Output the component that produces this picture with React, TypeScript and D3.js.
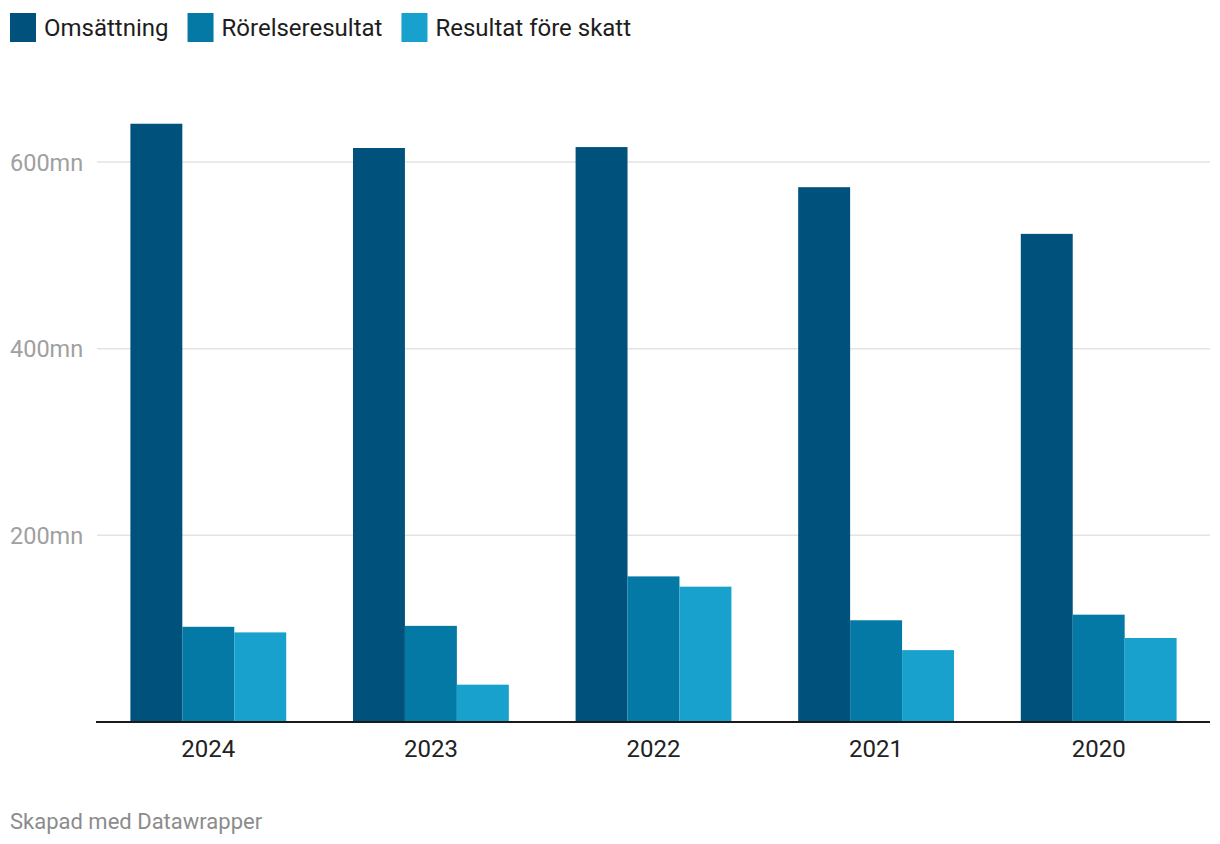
import { useRef, useEffect } from 'react'
import * as d3 from 'd3'

const years = ['2024', '2023', '2022', '2021', '2020']
const seriesNames = ['Omsättning', 'Rörelseresultat', 'Resultat före skatt']
const omsattning = [641, 615, 616, 573, 523]
const rorelseresultat = [102, 103, 156, 109, 115]
const resultatForeSkatt = [96, 40, 145, 77, 90]
const yTicks = [200, 400, 600]
const colors = ['#00527c', '#0479a6', '#18a1cd']

export default function App() {
  const svgRef = useRef(null)
  const width = 1220
  const height = 844

  useEffect(() => {
    const svg = d3.select(svgRef.current)
    svg.selectAll('*').remove()
    const font = 'Roboto, sans-serif'

    const left = 97, right = 1210, bottom = 722
    const x = d3.scaleBand().domain(years).range([left, right]).paddingInner(0.3).paddingOuter(0.15)
    const xs = d3.scaleBand().domain(seriesNames).range([0, x.bandwidth()])
    const y = d3.scaleLinear().domain([0, 600]).range([bottom, bottom - 560])

    const series = [omsattning, rorelseresultat, resultatForeSkatt]

    // legend
    let lx = 10
    seriesNames.forEach((name, i) => {
      const g = svg.append('g')
      g.append('rect').attr('x', lx).attr('y', 13).attr('width', 26).attr('height', 29).attr('fill', colors[i])
      const t = g.append('text').attr('x', lx + 34).attr('y', 36).attr('font-family', font)
        .attr('font-size', 24).attr('fill', '#1d1d1d').text(name)
      const w = (t.node() as SVGTextElement).getComputedTextLength()
      lx += 34 + w + 19
    })

    // grid
    svg.append('g').selectAll('line').data(yTicks).enter().append('line')
      .attr('x1', left).attr('x2', right)
      .attr('y1', d => y(d)).attr('y2', d => y(d))
      .attr('stroke', '#e3e3e3').attr('stroke-width', 1.5)
    svg.append('g').selectAll('text').data(yTicks).enter().append('text')
      .attr('x', 10).attr('y', d => y(d) + 8.5)
      .attr('font-family', font).attr('font-size', 23.5).attr('fill', '#a0a0a0')
      .text(d => d + 'mn')

    // bars
    series.forEach((vals, si) => {
      svg.append('g').selectAll('rect').data(vals).enter().append('rect')
        .attr('x', (d, i) => (x(years[i]) as number) + (xs(seriesNames[si]) as number))
        .attr('width', xs.bandwidth())
        .attr('y', d => y(d))
        .attr('height', d => y(0) - y(d))
        .attr('fill', colors[si])
    })

    // baseline
    svg.append('line').attr('x1', left - 1).attr('x2', right).attr('y1', y(0)).attr('y2', y(0))
      .attr('stroke', '#1a1a1a').attr('stroke-width', 2)

    // x labels
    svg.append('g').selectAll('text').data(years).enter().append('text')
      .attr('x', d => (x(d) as number) + x.bandwidth() / 2).attr('y', 757)
      .attr('text-anchor', 'middle').attr('font-family', font).attr('font-size', 24).attr('fill', '#222')
      .text(d => d)

    svg.append('text').attr('x', 10).attr('y', 829).attr('font-family', font)
      .attr('font-size', 22).attr('fill', '#8c8c8c').text('Skapad med Datawrapper')
  }, [])

  return (
    <div style={{ position: 'absolute', left: 0, top: 0, background: '#fff' }}>
      <svg ref={svgRef} width={width} height={height} />
    </div>
  )
}
